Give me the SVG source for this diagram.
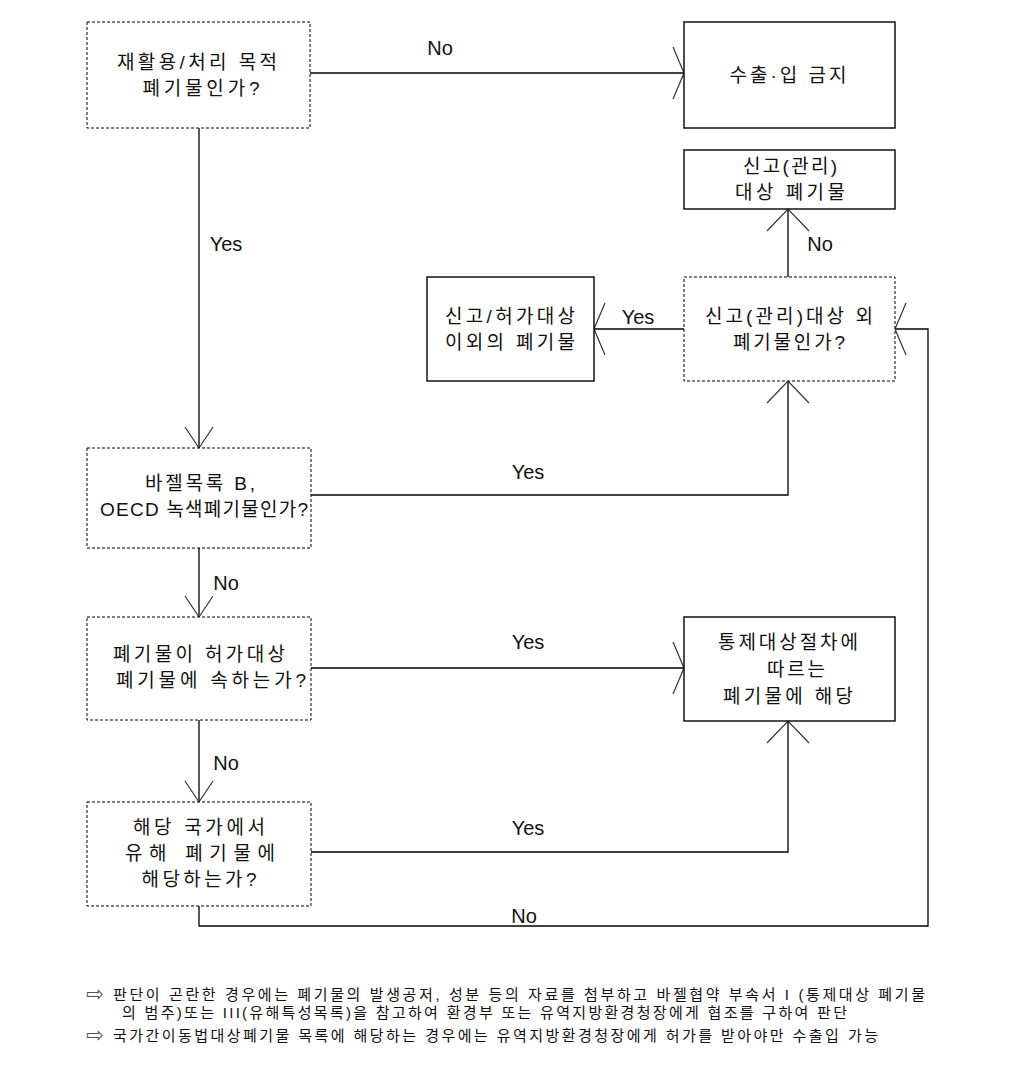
<svg xmlns="http://www.w3.org/2000/svg" width="1029" height="1081" viewBox="0 0 1029 1081">
<style>
  .bg { fill: #ffffff; }
  .dbox { fill: #ffffff; stroke: #000; stroke-width: 1; stroke-dasharray: 3 2; }
  .sbox { fill: #ffffff; stroke: #000; stroke-width: 1.4; }
  .t { font-family: "Liberation Sans", "Noto Sans CJK KR", sans-serif; font-size: 19px; fill: #111; text-anchor: middle; }
  .lbl { font-family: "Liberation Sans", "Noto Sans CJK KR", sans-serif; font-size: 20px; fill: #111; text-anchor: middle; }
  .conn { fill: none; stroke: #000; stroke-width: 1.3; }
  .head { fill: none; stroke: #333; stroke-width: 1.2; }
  .note { font-family: "Liberation Sans", "Noto Sans CJK KR", sans-serif; font-size: 15px; fill: #111; }
  .sym { font-family: "DejaVu Sans", sans-serif; font-size: 21px; fill: #555; }
</style>
<defs>
  <marker id="mH" markerUnits="userSpaceOnUse" orient="auto" overflow="visible" markerWidth="1" markerHeight="1" refX="0" refY="0">
    <path class="head" d="M-11,-26 L0,0 L-11,26"/>
  </marker>
  <marker id="mD" markerUnits="userSpaceOnUse" orient="auto" overflow="visible" markerWidth="1" markerHeight="1" refX="0" refY="0">
    <path class="head" d="M-21,-14 L0,0 L-21,14"/>
  </marker>
  <marker id="mU" markerUnits="userSpaceOnUse" orient="auto" overflow="visible" markerWidth="1" markerHeight="1" refX="0" refY="0">
    <path class="head" d="M-22,-21 L0,0 L-22,21"/>
  </marker>
</defs>
<rect class="bg" x="0" y="0" width="1029" height="1081"/>

<g id="connectors">
  <path class="conn" d="M310,73 H684" marker-end="url(#mH)"/>
  <path class="conn" d="M199,128 V448" marker-end="url(#mD)"/>
  <path class="conn" d="M788,277 V209" marker-end="url(#mU)"/>
  <path class="conn" d="M684,329 H594" marker-end="url(#mH)"/>
  <path class="conn" d="M311,495 H788 V381" marker-end="url(#mU)"/>
  <path class="conn" d="M199,548 V617" marker-end="url(#mD)"/>
  <path class="conn" d="M311,668 H684" marker-end="url(#mH)"/>
  <path class="conn" d="M199,720 V802" marker-end="url(#mD)"/>
  <path class="conn" d="M311,852 H788 V721" marker-end="url(#mU)"/>
  <path class="conn" d="M199,906 V926 H928 V329 H895" marker-end="url(#mH)"/>
  <text class="lbl" x="440" y="55">No</text>
  <text class="lbl" x="226" y="251">Yes</text>
  <text class="lbl" x="820" y="251">No</text>
  <text class="lbl" x="638" y="324">Yes</text>
  <text class="lbl" x="528" y="479">Yes</text>
  <text class="lbl" x="226" y="590">No</text>
  <text class="lbl" x="528" y="649">Yes</text>
  <text class="lbl" x="226" y="770">No</text>
  <text class="lbl" x="528" y="835">Yes</text>
  <text class="lbl" x="524" y="923">No</text>
</g>

<g id="q-recycle">
  <rect class="dbox" x="87" y="22" width="223" height="106"/>
  <text class="t" x="197" y="69" textLength="160">재활용/처리 목적</text>
  <text class="t" x="201" y="95" textLength="117">폐기물인가?</text>
</g>

<g id="ban">
  <rect class="sbox" x="684" y="22" width="211" height="106"/>
  <text class="t" x="788" y="82" textLength="117">수출·입 금지</text>
</g>

<g id="report-target">
  <rect class="sbox" x="684" y="150" width="211" height="59"/>
  <text class="t" x="790" y="173" textLength="94">신고(관리)</text>
  <text class="t" x="790" y="199" textLength="110">대상 폐기물</text>
</g>

<g id="other-waste">
  <rect class="sbox" x="427" y="277" width="167" height="104"/>
  <text class="t" x="510" y="323" textLength="130">신고/허가대상</text>
  <text class="t" x="510" y="349" textLength="130">이외의 폐기물</text>
</g>

<g id="q-report">
  <rect class="dbox" x="684" y="277" width="211" height="104"/>
  <text class="t" x="789" y="323" textLength="168">신고(관리)대상 외</text>
  <text class="t" x="789" y="349" textLength="112">폐기물인가?</text>
</g>

<g id="q-basel">
  <rect class="dbox" x="87" y="448" width="224" height="100"/>
  <text class="t" x="200" y="490" textLength="110">바젤목록 B,</text>
  <text class="t" x="204" y="516" textLength="208">OECD 녹색폐기물인가?</text>
</g>

<g id="q-permit">
  <rect class="dbox" x="87" y="617" width="224" height="103"/>
  <text class="t" x="199" y="661" textLength="172">폐기물이 허가대상</text>
  <text class="t" x="211" y="687" textLength="190">폐기물에 속하는가?</text>
</g>

<g id="controlled">
  <rect class="sbox" x="684" y="617" width="211" height="104"/>
  <text class="t" x="788" y="649" textLength="140">통제대상절차에</text>
  <text class="t" x="796" y="676" textLength="58">따르는</text>
  <text class="t" x="788" y="703" textLength="130">폐기물에 해당</text>
</g>

<g id="q-hazard">
  <rect class="dbox" x="87" y="802" width="224" height="104"/>
  <text class="t" x="199" y="834" textLength="132">해당 국가에서</text>
  <text class="t" x="200" y="860" textLength="150">유해 폐기물에</text>
  <text class="t" x="199" y="886" textLength="115">해당하는가?</text>
</g>

<g id="notes">
  <text class="sym" x="86" y="1001">⇨</text>
  <text class="note" x="113" y="1000" textLength="812">판단이 곤란한 경우에는 폐기물의 발생공저, 성분 등의 자료를 첨부하고 바젤협약 부속서 I (통제대상 폐기물</text>
  <text class="note" x="122" y="1018" textLength="725">의 범주)또는 III(유해특성목록)을 참고하여 환경부 또는 유역지방환경청장에게 협조를 구하여 판단</text>
  <text class="sym" x="86" y="1042">⇨</text>
  <text class="note" x="113" y="1041" textLength="765">국가간이동법대상폐기물 목록에 해당하는 경우에는 유역지방환경청장에게 허가를 받아야만 수출입 가능</text>
</g>
</svg>
